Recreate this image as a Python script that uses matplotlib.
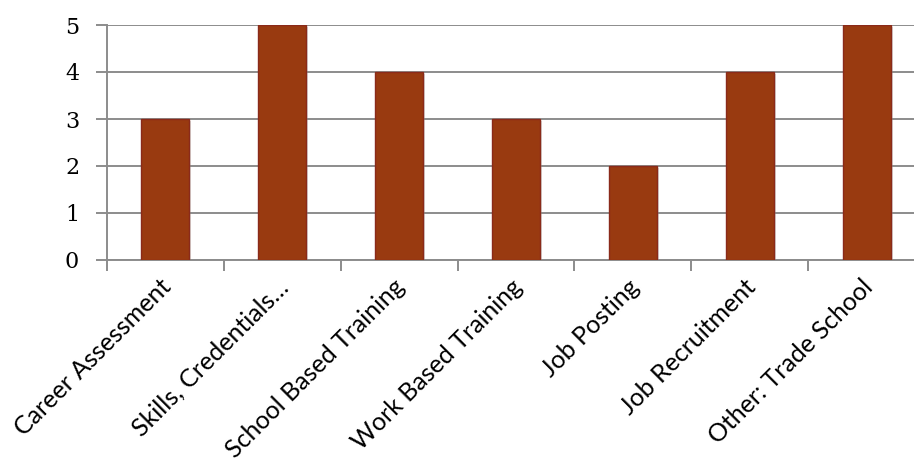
import matplotlib.pyplot as plt
import matplotlib.patheffects as pe
from matplotlib.transforms import ScaledTranslation

categories = ['Career Assessment', 'Skills, Credentials…', 'School Based Training',
              'Work Based Training', 'Job Posting', 'Job Recruitment',
              'Other: Trade School']
values = [3, 5, 4, 3, 2, 4, 5]
y_ticks = [0, 1, 2, 3, 4, 5]

fig = plt.figure(figsize=(9.14, 4.59), dpi=100)
# axes runs slightly past the right edge, like the original crop
ax = fig.add_axes([107 / 914, 1 - 260 / 459, 818 / 914, 235 / 459])

x = list(range(len(categories)))
bars = ax.bar(x, values, width=0.41, color='#993a10', edgecolor='#8a2a1a',
              linewidth=1.0, zorder=3)
for b in bars:
    b.set_path_effects([pe.SimplePatchShadow(offset=(1.5, -1.5), shadow_rgbFace='#999999',
                                             alpha=0.35), pe.Normal()])

ax.set_xlim(-0.5, len(categories) - 0.5)
ax.set_ylim(0, 5)
ax.set_yticks(y_ticks)
ax.set_yticklabels([str(v) for v in y_ticks], family='DejaVu Serif', fontsize=16)
ax.yaxis.grid(True, color='#8c8c8c', linewidth=1.4, zorder=0)

# category boundaries as tick marks
ax.set_xticks([i - 0.5 for i in x], minor=False)
ax.set_xticklabels([])
ax.tick_params(axis='x', length=8, color='#8c8c8c', width=1.4, direction='out')
ax.tick_params(axis='y', length=8, color='#8c8c8c', width=1.4, pad=12)
ax.set_xticks(x, minor=True)
ax.set_xticklabels(categories, minor=True, rotation=45, ha='right',
                   rotation_mode='anchor', family='Lato', fontsize=18)
ax.tick_params(axis='x', which='minor', length=0, pad=11)
shift = ScaledTranslation(-6 / 100, 0, fig.dpi_scale_trans)
for lab in ax.get_xticklabels(minor=True):
    lab.set_transform(lab.get_transform() + shift)

for side in ['top', 'right']:
    ax.spines[side].set_visible(False)
ax.spines['left'].set_color('#8c8c8c')
ax.spines['bottom'].set_color('#8c8c8c')
ax.spines['left'].set_linewidth(1.4)
ax.spines['bottom'].set_linewidth(1.4)

fig.savefig('out.png', dpi=100)
